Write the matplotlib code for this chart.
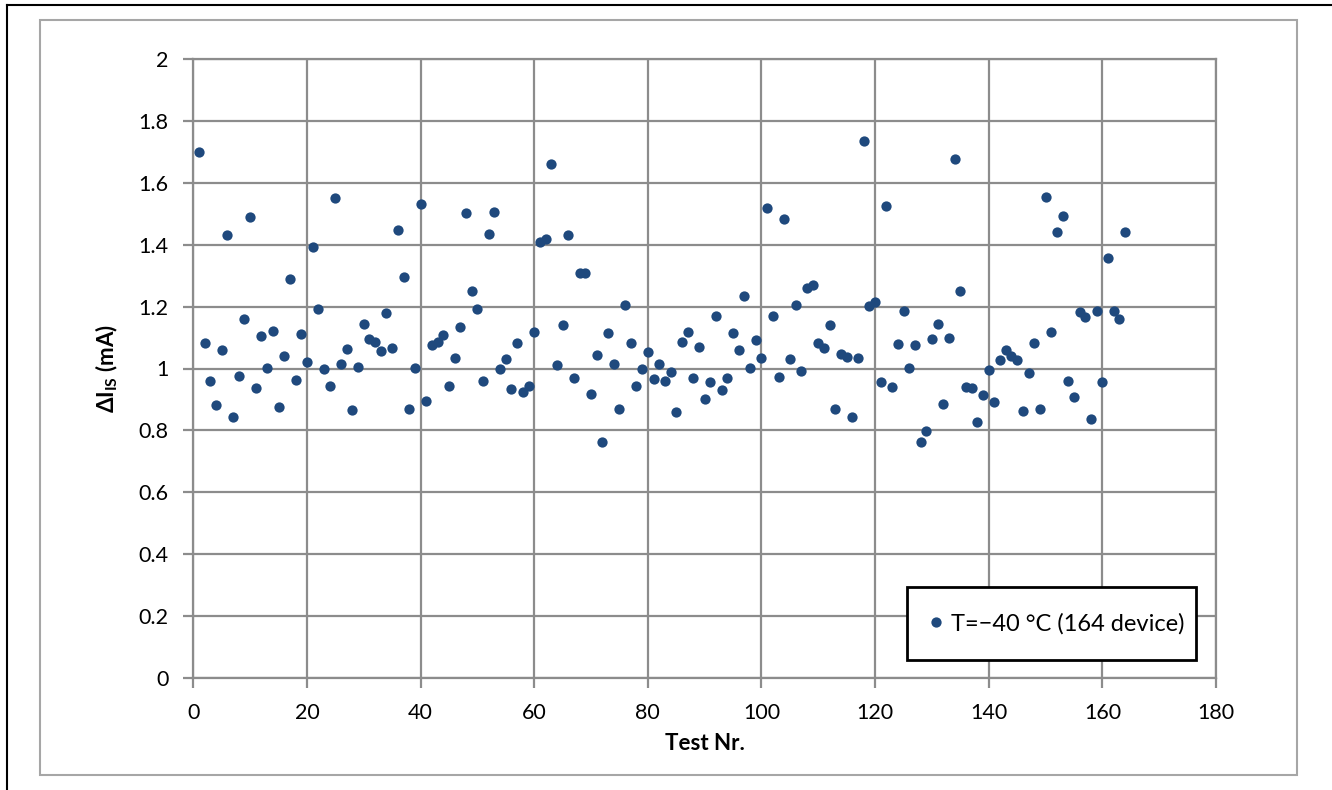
import matplotlib
matplotlib.use("Agg")
import matplotlib.pyplot as plt
from matplotlib.patches import Rectangle
from matplotlib.lines import Line2D

plt.rcParams['font.family'] = ['Lato', 'DejaVu Sans']
plt.rcParams['mathtext.fontset'] = 'custom'
plt.rcParams['mathtext.rm'] = 'Lato'
plt.rcParams['mathtext.bf'] = 'Lato:bold'
plt.rcParams['mathtext.fallback'] = 'stixsans'

test_nr = list(range(1, 165))
delta_is = [
    1.700, 1.084, 0.961, 0.881, 1.060, 1.431, 0.843, 0.976, 1.161, 1.490,
    0.937, 1.104, 1.002, 1.121, 0.877, 1.041, 1.290, 0.962, 1.113, 1.020,
    1.391, 1.191, 1.000, 0.944, 1.550, 1.013, 1.063, 0.865, 1.005, 1.144,
    1.094, 1.085, 1.055, 1.178, 1.065, 1.448, 1.296, 0.869, 1.003, 1.533,
    0.896, 1.075, 1.087, 1.107, 0.942, 1.033, 1.134, 1.502, 1.251, 1.192,
    0.961, 1.433, 1.507, 0.997, 1.030, 0.935, 1.082, 0.923, 0.943, 1.119,
    1.409, 1.417, 1.662, 1.011, 1.139, 1.432, 0.970, 1.307, 1.307, 0.917,
    1.044, 0.764, 1.115, 1.016, 0.869, 1.205, 1.082, 0.945, 0.997, 1.054,
    0.966, 1.014, 0.961, 0.989, 0.859, 1.087, 1.117, 0.968, 1.071, 0.900,
    0.955, 1.170, 0.932, 0.968, 1.114, 1.061, 1.234, 1.002, 1.091, 1.035,
    1.519, 1.169, 0.974, 1.482, 1.030, 1.205, 0.991, 1.259, 1.270, 1.084,
    1.066, 1.142, 0.868, 1.046, 1.038, 0.842, 1.033, 1.734, 1.203, 1.216,
    0.955, 1.526, 0.941, 1.079, 1.185, 1.001, 1.075, 0.763, 0.798, 1.094,
    1.145, 0.886, 1.100, 1.676, 1.251, 0.940, 0.937, 0.828, 0.915, 0.996,
    0.891, 1.026, 1.061, 1.039, 1.026, 0.863, 0.985, 1.082, 0.868, 1.555,
    1.119, 1.440, 1.493, 0.960, 0.907, 1.183, 1.167, 0.837, 1.186, 0.956,
    1.357, 1.186, 1.160, 1.440,
]
series_label = "T=\u221240 \u00b0C (164 device)"
x_ticks = [0, 20, 40, 60, 80, 100, 120, 140, 160, 180]
y_ticks = [0, 0.2, 0.4, 0.6, 0.8, 1.0, 1.2, 1.4, 1.6, 1.8, 2.0]
y_tick_labels = ["0", "0.2", "0.4", "0.6", "0.8", "1", "1.2", "1.4", "1.6", "1.8", "2"]

W, H = 1332, 790
fig = plt.figure(figsize=(W / 100, H / 100), dpi=100)

def fx(px):
    return px / W

def fy(py):
    return 1 - py / H

# outer frames
fig.add_artist(Line2D([fx(7), fx(7)], [0, fy(5)], color='black', lw=1.5))
fig.add_artist(Line2D([fx(7), 1], [fy(5), fy(5)], color='black', lw=1.5))
fig.add_artist(Rectangle((fx(40), fy(775)), fx(1297) - fx(40), fy(20) - fy(775),
                         fill=False, edgecolor='#a6a6a6', lw=1.5))

ax = fig.add_axes([fx(193.3), fy(678), fx(1216) - fx(193.3), fy(59) - fy(678)])
grid_c = '#8c8c8c'
ax.set_xlim(0, 180)
ax.set_ylim(0, 2)
ax.set_xticks(x_ticks)
ax.set_yticks(y_ticks)
ax.set_yticklabels(y_tick_labels)
ax.grid(True, color=grid_c, lw=1.6)
ax.set_axisbelow(True)
for s in ax.spines.values():
    s.set_color(grid_c)
    s.set_linewidth(1.6)
ax.tick_params(axis='both', direction='out', length=7, width=1.6, color=grid_c,
               labelsize=15.5, pad=11, labelcolor='black')

ax.plot(test_nr, delta_is, linestyle='none', marker='o', markersize=7.4,
        markeredgewidth=0, color='#1F497D', label=series_label, clip_on=False)

ax.set_xlabel("Test Nr.", fontsize=16, fontweight='bold', labelpad=7)
ax.set_ylabel(r"$\mathbf{\Delta I_{IS}}$ (mA)", fontsize=16, fontweight='bold', labelpad=13)

# legend box (children of the axes so the legend draws on top)
ax.add_patch(Rectangle((fx(907), fy(660)), fx(1196) - fx(907), fy(587) - fy(660),
                       transform=fig.transFigure, clip_on=False,
                       facecolor='white', edgecolor='black', lw=2, zorder=10))
leg = ax.legend(loc='center left', bbox_to_anchor=(fx(930), fy(624)),
                bbox_transform=fig.transFigure, frameon=False, fontsize=17,
                handlelength=0.55, handletextpad=0.35, borderpad=0, borderaxespad=0)
leg.set_zorder(11)

fig.savefig("out.png", dpi=100)
